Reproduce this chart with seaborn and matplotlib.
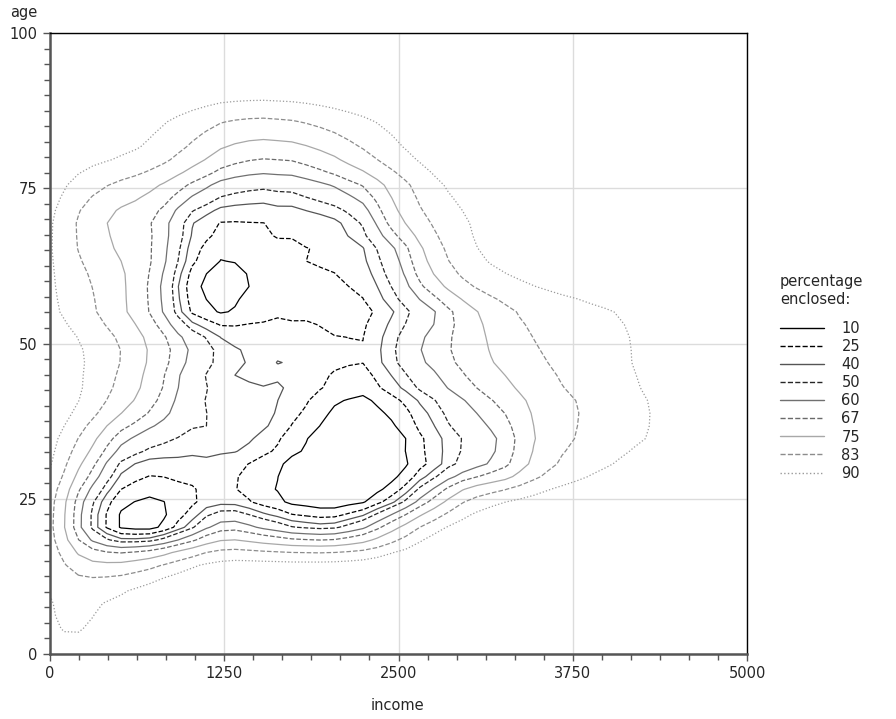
import numpy as np
import pandas as pd
import matplotlib
matplotlib.use("Agg")
import matplotlib.pyplot as plt
from matplotlib.lines import Line2D
from matplotlib.ticker import MultipleLocator
import seaborn as sns

# binned sample: counts per (age row, income column)
income_bins = [0, 250, 500, 750, 1000, 1250, 1500, 1750, 2000, 2250, 2500,
               2750, 3000, 3250, 3500, 3750, 4000, 4250, 4500, 4750, 5000]
age_bins = [0, 5, 10, 15, 20, 25, 30, 35, 40, 45, 50,
            55, 60, 65, 70, 75, 80, 85, 90, 95, 100]
counts = [
    [1.2, 1.2, 0.6, 0.35, 0.3, 0.25, 0.25, 0.25, 0.25, 0.25, 0.25, 0.25, 0.25, 0.25, 0.25, 0.25, 0.25, 0.25, 0.25, 0.25, 0.25],
    [1.5, 1.5, 0.85, 0.45, 0.35, 0.3, 0.3, 0.3, 0.3, 0.3, 0.3, 0.3, 0.3, 0.25, 0.25, 0.25, 0.25, 0.25, 0.25, 0.25, 0.25],
    [1.5, 1.6, 1.2, 0.55, 0.4, 0.35, 0.3, 0.3, 0.3, 0.3, 0.3, 0.3, 0.3, 0.3, 0.25, 0.25, 0.25, 0.25, 0.25, 0.25, 0.25],
    [1.6, 3.6, 3.5, 2.6, 1.1, 0.65, 0.55, 0.5, 0.45, 0.4, 0.35, 0.35, 0.35, 0.3, 0.3, 0.3, 0.25, 0.25, 0.25, 0.25, 0.25],
    [1.6, 7.0, 9.2, 9.4, 7.5, 4.6, 6.0, 7.0, 7.4, 6.2, 3.2, 0.9, 0.65, 0.5, 0.45, 0.4, 0.35, 0.35, 0.3, 0.3, 0.3],
    [1.5, 6.5, 8.0, 8.3, 7.8, 7.6, 8.2, 8.7, 8.9, 8.8, 7.9, 5.0, 1.7, 1.0, 0.75, 0.6, 0.5, 0.45, 0.4, 0.35, 0.3],
    [0.9, 4.05, 7.4, 7.5, 7.4, 7.4, 7.9, 8.5, 8.9, 8.9, 8.6, 7.7, 6.6, 5.9, 3.1, 1.9, 1.35, 1.0, 0.8, 0.6, 0.45],
    [0.85, 2.6, 5.6, 6.4, 6.7, 6.7, 6.9, 7.9, 8.6, 8.9, 8.5, 7.2, 6.5, 5.9, 3.4, 2.5, 1.8, 1.42, 1.1, 0.8, 0.55],
    [0.6, 1.3, 3.0, 4.7, 6.6, 6.8, 6.8, 7.3, 8.2, 8.6, 7.9, 6.9, 5.9, 4.8, 3.3, 2.6, 1.9, 1.4, 1.1, 0.8, 0.55],
    [0.6, 1.3, 2.4, 4.25, 6.5, 7.1, 7.4, 7.0, 7.5, 7.9, 6.7, 5.8, 4.6, 3.6, 2.8, 2.0, 1.6, 1.25, 0.9, 0.65, 0.45],
    [0.6, 1.3, 2.1, 3.9, 5.5, 6.9, 7.2, 7.1, 7.4, 7.7, 6.4, 5.1, 4.4, 3.1, 2.3, 1.9, 1.55, 1.25, 0.85, 0.55, 0.4],
    [1.2, 2.0, 3.5, 5.2, 8.2, 8.5, 7.8, 7.8, 8.0, 8.0, 7.2, 6.5, 4.4, 2.8, 2.1, 1.8, 1.5, 1.2, 0.8, 0.5, 0.4],
    [1.2, 2.2, 3.2, 5.2, 8.2, 8.9, 8.0, 7.8, 7.7, 7.5, 6.3, 3.7, 1.9, 1.4, 1.1, 0.85, 0.65, 0.5, 0.4, 0.35, 0.3],
    [1.2, 2.8, 3.9, 4.6, 7.4, 8.2, 7.9, 7.7, 7.5, 7.3, 6.2, 2.7, 1.35, 0.95, 0.7, 0.55, 0.45, 0.35, 0.3, 0.3, 0.3],
    [1.15, 2.97, 4.5, 4.8, 7.4, 7.7, 7.6, 7.5, 7.4, 6.9, 3.4, 2.1, 1.3, 0.85, 0.65, 0.5, 0.4, 0.35, 0.3, 0.3, 0.3],
    [0.8, 2.1, 2.8, 3.7, 5.3, 6.6, 6.8, 6.7, 6.1, 5.3, 3.14, 1.48, 0.95, 0.7, 0.55, 0.4, 0.35, 0.3, 0.3, 0.3, 0.3],
    [0.4, 0.9, 1.15, 1.48, 2.7, 4.3, 4.8, 4.7, 3.9, 2.53, 1.36, 0.9, 0.65, 0.5, 0.4, 0.35, 0.3, 0.3, 0.3, 0.3, 0.3],
    [0.35, 0.55, 0.85, 1.25, 1.85, 2.8, 3.05, 2.8, 2.2, 1.6, 1.15, 0.8, 0.55, 0.45, 0.35, 0.3, 0.3, 0.3, 0.3, 0.3, 0.3],
    [0.3, 0.4, 0.5, 0.6, 0.75, 0.8, 0.85, 0.8, 0.75, 0.65, 0.5, 0.4, 0.35, 0.3, 0.3, 0.25, 0.25, 0.25, 0.25, 0.25, 0.25],
    [0.25, 0.3, 0.35, 0.4, 0.45, 0.5, 0.5, 0.5, 0.45, 0.4, 0.35, 0.3, 0.3, 0.25, 0.25, 0.25, 0.25, 0.25, 0.25, 0.25, 0.25],
    [0.2, 0.25, 0.3, 0.3, 0.35, 0.4, 0.4, 0.4, 0.35, 0.35, 0.3, 0.3, 0.25, 0.25, 0.2, 0.2, 0.2, 0.2, 0.2, 0.2, 0.2],
]

percent_enclosed = [10, 25, 40, 50, 60, 67, 75, 83, 90]
line_colors = ["#000000", "#000000", "#555555", "#262626", "#707070",
               "#6a6a6a", "#a8a8a8", "#8c8c8c", "#9a9a9a"]
line_styles = ["solid", "dashed", "solid", "dashed", "solid",
               "dashed", "solid", "dashed", "dotted"]

records = []
for a, row in zip(age_bins, counts):
    for inc, c in zip(income_bins, row):
        if c > 0:
            records.append((inc, a, c))
df = pd.DataFrame(records, columns=["income", "age", "count"])

# kernel of about 2.7 years along the age axis
age_sd = np.sqrt(np.cov(df["age"], aweights=df["count"]))
bw = 2.7 / age_sd

sns.set_style("white")
plt.rcParams["font.family"] = ["DejaVu Sans"]
plt.rcParams["font.size"] = 10.5

fig = plt.figure(figsize=(8.96, 7.19), dpi=100)
ax = fig.add_axes([50 / 896, 65 / 719, 697 / 896, 621 / 719])

# seaborn wants increasing iso-proportions (mass below each contour)
iso = sorted(round(1 - p / 100, 2) for p in percent_enclosed)

sns.kdeplot(data=df, x="income", y="age", weights="count",
            levels=iso, bw_method=bw, gridsize=50,
            clip=((0, 5000), (0, 100)),
            colors=line_colors[::-1], linestyles=line_styles[::-1],
            linewidths=0.9, ax=ax)

ax.set_xlim(0, 5000)
ax.set_ylim(0, 100)
ax.xaxis.set_major_locator(MultipleLocator(1250))
ax.xaxis.set_minor_locator(MultipleLocator(1250 / 6))
ax.yaxis.set_major_locator(MultipleLocator(25))
ax.yaxis.set_minor_locator(MultipleLocator(2.5))
ax.grid(True, which="major", color="#dcdcdc", linewidth=1.0)
ax.set_axisbelow(True)
ax.tick_params(which="both", direction="out", color="#555555", width=1.0,
               bottom=True, left=True)
ax.tick_params(which="major", length=5, pad=4)
ax.tick_params(which="minor", length=4)
ax.set_xlabel("")
ax.set_ylabel("")

for side in ["left", "bottom"]:
    ax.spines[side].set_color("#555555")
    ax.spines[side].set_linewidth(1.8)
for side in ["top", "right"]:
    ax.spines[side].set_color("#000000")
    ax.spines[side].set_linewidth(1.0)

fig.text(24 / 896, 1 - 13 / 719, "age", ha="center", va="center")
fig.text(397 / 896, 1 - 706 / 719, "income", ha="center", va="center")

# legend title sits a little apart from the entries
fig.text(780 / 896, 1 - 282 / 719, "percentage", ha="left", va="center")
fig.text(780 / 896, 1 - 300 / 719, "enclosed:", ha="left", va="center")
handles = [Line2D([0], [0], color=c, linestyle=s, linewidth=1.0)
           for c, s in zip(line_colors, line_styles)]
leg = fig.legend(handles, [str(p) for p in percent_enclosed],
                 loc="upper left", bbox_to_anchor=(767 / 896, 1 - 308 / 719),
                 frameon=False, handlelength=3.0, handletextpad=1.2,
                 labelspacing=0.21, fontsize=10.5)

fig.savefig("out.png", dpi=100, facecolor="white")
